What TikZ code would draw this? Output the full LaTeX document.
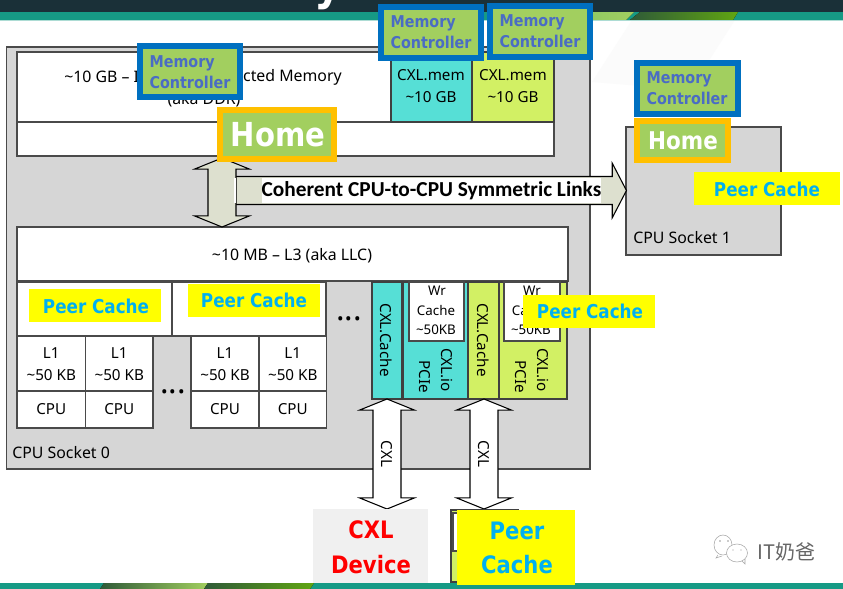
\documentclass[tikz,border=0pt]{standalone}
\usepackage{fontspec}
\usetikzlibrary{shapes.arrows,shapes.geometric}
\setmainfont{Noto Sans}
\newfontfamily\calib{Carlito}
\newfontfamily\headf[FakeStretch=0.88]{DejaVu Sans}
\newfontfamily\cjk{Noto Sans CJK SC}
\definecolor{band}{HTML}{1A3038}
\definecolor{teal}{HTML}{169A85}
\definecolor{lime}{HTML}{A2CF5F}
\definecolor{leaf}{HTML}{60A512}
\definecolor{moss}{HTML}{2F5A38}
\definecolor{socket}{HTML}{D6D6D6}
\definecolor{edge}{HTML}{4A4A4A}
\definecolor{cyanblk}{HTML}{56DFD6}
\definecolor{limeblk}{HTML}{D2F064}
\definecolor{linkfill}{HTML}{DDE0CF}
\definecolor{mcblue}{HTML}{0070C0}
\definecolor{mctext}{HTML}{4A6CC4}
\definecolor{homegold}{HTML}{FFC000}
\definecolor{peertext}{HTML}{00B0F0}
\definecolor{peerfill}{HTML}{FFFF00}
\definecolor{devred}{HTML}{FF0000}
\newcommand\fsz[2]{\fontsize{#1}{#2}\selectfont}
% box given by its corners in pixel units: style, x1, y1, x2, y2, name
\newcommand\bx[6]{\node[#1,outer sep=0pt,inner sep=0pt,align=center,
  minimum width={(#4-#2)*0.75pt},minimum height={(#5-#3)*0.75pt}]
  (#6) at ({(#2+#4)/2},{(#3+#5)/2}) {};}
% strut that sets the shaft width of a block arrow
\newcommand\shaft{\rule[-10.1pt]{0pt}{20.2pt}}
\tikzset{
  x=0.75pt,y=-0.75pt,
  sock/.style={draw=edge,fill=socket,line width=1pt},
  whitecell/.style={draw=edge,fill=white,line width=0.9pt},
  plainwhite/.style={fill=white},
  cyancell/.style={draw=black!75,fill=cyanblk,line width=0.9pt},
  limecell/.style={draw=black!75,fill=limeblk,line width=0.9pt},
  mc/.style={draw=mcblue,fill=lime,line width=4.5pt},
  homebox/.style={draw=homegold,fill=lime,line width=4.5pt},
  peer/.style={fill=peerfill},
  devbox/.style={fill=black!6},
  lab/.style={font=\fsz{11.4}{14},inner sep=0pt,text=black,align=center},
  wider/.style={font=\fsz{11.9}{14}},
  small/.style={font=\fsz{10}{12}},
  mctxt/.style={font=\headf\bfseries\fsz{12.2}{16},text=mctext,align=left,inner sep=0pt},
  peertxt/.style={font=\headf\bfseries\fsz{14.3}{16},text=peertext,inner sep=0pt},
  twoway/.style={double arrow,draw=black,line width=0.8pt,inner sep=0pt,
    double arrow head extend=10.1pt,double arrow tip angle=136,double arrow head indent=0pt},
}
\begin{document}
\begin{tikzpicture}
\useasboundingbox (0,0) rectangle (843,589);
\fill[white] (0,0) rectangle (843,589);
% slide furniture
\fill[black!1.5] (632,20) -- (735,20) -- (690,90) -- (592,82) -- cycle;
\fill[band] (0,0) rectangle (843,12);
\fill[teal] (0,12) rectangle (843,20);
\fill[left color=lime!70!teal,right color=lime] (530,12) -- (634,12) -- (626,20) -- (520,20) -- cycle;
\fill[left color=moss,right color=leaf] (640,12) -- (738,12) -- (733,20) -- (630,20) -- cycle;
\fill[teal!35] (0,20) rectangle (843,21);
\fill[teal] (0,583) rectangle (843,589);
\fill[left color=moss,right color=lime] (104,583) -- (208,583) -- (204,589) -- (100,589) -- cycle;
\fill[left color=moss,right color=leaf] (208,583) -- (314,583) -- (310,589) -- (204,589) -- cycle;
\begin{scope}
\clip (300,0) rectangle (350,12);
\node[font=\headf\bfseries\fsz{36}{40},text=white,inner sep=0pt,anchor=base] (titletail) at (328,-1) {y};
\end{scope}

% socket bodies
\bx{sock}{6.5}{47}{590}{469}{sockzero}
\bx{sock}{626}{127}{781}{255}{sockone}
\node[lab,wider,anchor=west] (sockzerolab) at (12,453) {CPU Socket 0};
\node[lab,wider,anchor=west] (sockonelab) at (633,238) {CPU Socket 1};

% memory block
\bx{whitecell}{17}{52}{554}{122}{ddr}
\bx{whitecell}{17}{122}{554}{156}{ddrlow}
\bx{cyancell}{391}{52}{472}{122}{memone}
\bx{limecell}{472}{52}{554}{122}{memtwo}
\node[lab,wider,anchor=west] (ddrleft) at (64,77) {\char"7E 10 GB -- I};
\node[lab,wider,anchor=east] (ddrright) at (342,77) {cted Memory};
\node[lab,wider] (ddrnote) at (204,100) {(aka DDR)};
\node[lab] (memonelab) at (431,86) {CXL.mem\\[2.5pt]\char"7E 10 GB};
\node[lab] (memtwolab) at (513,86) {CXL.mem\\[2.5pt]\char"7E 10 GB};

% L3 and core caches
\bx{whitecell}{17}{227}{568}{281}{lthree}
\node[lab,wider] (lthreelab) at (292,256) {\char"7E 10 MB -- L3 (aka LLC)};
\bx{whitecell}{17}{282}{172}{336}{ltwoa}
\bx{whitecell}{172}{282}{326}{336}{ltwob}
\foreach \nm/\xa/\xb in {a/17/85.5,b/85.5/153,c/191/259,d/259/326.5}{
  \bx{whitecell}{\xa}{336}{\xb}{391}{lone\nm}
  \bx{whitecell}{\xa}{391}{\xb}{428}{cpu\nm}
  \node[lab] (lonelab\nm) at ({(\xa+\xb)/2},{364}) {L1\\[2.5pt]\char"7E 50 KB};
  \node[lab] (cpulab\nm) at ({(\xa+\xb)/2},{409.5}) {CPU};
}
\node[font=\bfseries\fsz{24}{24},inner sep=0pt,anchor=base] (dotsa) at (173,393) {...};
\node[font=\bfseries\fsz{24}{24},inner sep=0pt,anchor=base] (dotsb) at (349,320) {...};

% CXL port blocks
\bx{cyancell}{372}{282}{402}{399}{cachea}
\bx{cyancell}{403}{282}{468}{399}{ioa}
\bx{limecell}{468}{282}{499}{399}{cacheb}
\bx{limecell}{499}{282}{567}{399}{iob}
\bx{whitecell}{409}{282}{464}{341}{wra}
\bx{whitecell}{504}{282}{560}{341}{wrb}
\foreach \nm/\dx/\ex in {a/0/0,b/95/1}{
  \node[lab,small] (wrtop\nm) at ({437+\dx},291) {Wr};
  \node[lab,small] (wrmid\nm) at ({436+\dx},310) {Cache};
  \node[lab,small] (wrlow\nm) at ({436+\dx},330) {\char"7E 50KB};
  \node[lab,rotate=-90] (cachelab\nm) at ({386+\dx+2*\ex},340) {CXL.Cache};
  \node[lab,rotate=-90] (iolab\nm) at ({447+\dx+\ex},370) {CXL.io};
  \node[lab,rotate=-90] (pcielab\nm) at ({425+\dx+\ex},377) {PCIe};
}

% coherent links
\node[single arrow,draw=black,fill=linkfill,line width=0.8pt,inner sep=0pt,
  single arrow head extend=10pt,single arrow tip angle=125,single arrow head indent=0pt,
  minimum height=293.2pt,anchor=tail] (link) at (235,190.5) {\shaft};
\node[twoway,fill=linkfill,rotate=90,minimum height=51.75pt] (updown) at (222,192.5) {\shaft};
\draw[white,line width=0.8pt] (235,178) -- (235,203);
\bx{plainwhite}{262}{178}{601}{203}{linkback}
\node[font=\calib\bfseries\fsz{16}{18},inner sep=0pt] (linklab) at (431.5,190.5) {Coherent CPU-to-CPU Symmetric Links};

% CXL links
\node[twoway,fill=white,rotate=-90,minimum height=82.5pt] (cxla) at (387,454) {\shaft};
\node[twoway,fill=white,rotate=-90,minimum height=82.5pt] (cxlb) at (484,454) {\shaft};
\node[lab,rotate=-90] (cxlalab) at (cxla) {CXL};
\node[lab,rotate=-90] (cxlblab) at (cxlb) {CXL};

% attached devices
\bx{devbox}{313}{509}{428}{583}{device}
\node[font=\headf\bfseries\fsz{18}{26},text=devred,align=center,inner sep=0pt] (devicelab) at (371,547.5) {CXL\\Device};
\bx{limecell}{451}{510}{518}{582}{attached}
\bx{whitecell}{453}{513}{500}{551}{attachedcache}

% overlays
\bx{mc}{140}{46}{240}{97}{mca}
\bx{mc}{381}{7}{481}{58}{mcb}
\bx{mc}{490}{6}{590}{57}{mcc}
\bx{mc}{637}{63}{738}{114}{mcd}
\node[mctxt] (mcalab) at (190,72) {Memory\\Controller};
\node[mctxt] (mcblab) at (431,32) {Memory\\Controller};
\node[mctxt] (mcclab) at (540,31) {Memory\\Controller};
\node[mctxt] (mcdlab) at (687,88) {Memory\\Controller};
\bx{homebox}{220}{110}{334}{159}{homea}
\bx{homebox}{637}{121}{728}{160}{homeb}
\node[font=\headf\bfseries\fsz{24.8}{28},text=white,inner sep=0pt] (homealab) at (278,135) {Home};
\node[font=\headf\bfseries\fsz{18.3}{20},text=white,inner sep=0pt] (homeblab) at (683,141) {Home};
\bx{peer}{29}{289}{161}{322}{peera}
\bx{peer}{188}{284}{320}{317}{peerb}
\bx{peer}{523}{295}{655}{328}{peerc}
\bx{peer}{694}{172}{840}{205}{peerd}
\bx{peer}{457}{510}{575}{585}{peere}
\node[peertxt] (peeralab) at (96,306) {Peer Cache};
\node[peertxt] (peerblab) at (254,300) {Peer Cache};
\node[peertxt] (peerclab) at (590,311) {Peer Cache};
\node[peertxt] (peerdlab) at (767,189) {Peer Cache};
\node[font=\headf\bfseries\fsz{18}{26},text=peertext,align=center,inner sep=0pt] (peerelab) at (517,548) {Peer\\Cache};

% account mark
\draw[black!35,line width=0.4pt,fill=white] (723,545) ellipse (9 and 10);
\draw[black!35,line width=0.4pt] (718,555) -- (716,558) -- (722,556);
\draw[black!35,line width=0.4pt,fill=white] (737,553) ellipse (10.5 and 9);
\draw[black!35,line width=0.4pt] (742,561) -- (745,564) -- (745,559);
\fill[black!40] (720,541) circle (0.8) (728,541) circle (0.8) (733,550) circle (0.7) (741,550) circle (0.7);
\node[font=\cjk\fsz{15}{18},text=black!60,inner sep=0pt,anchor=west] (account) at (757,552) {IT奶爸};
\end{tikzpicture}
\end{document}
